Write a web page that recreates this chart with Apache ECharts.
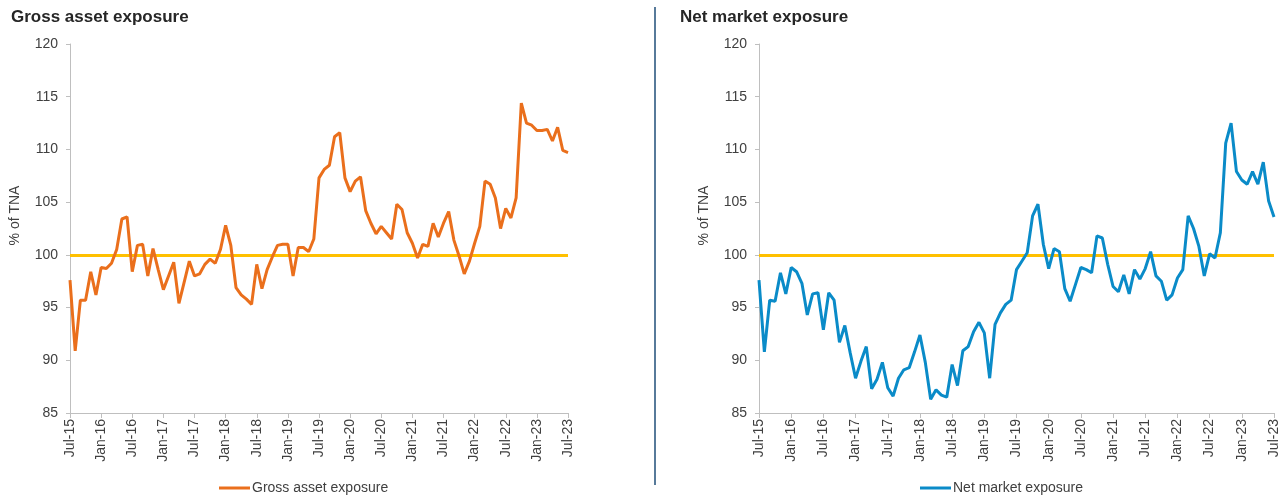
<!DOCTYPE html>
<html>
<head>
<meta charset="utf-8">
<script src="https://cdn.jsdelivr.net/npm/echarts@6/dist/echarts.min.js"></script>
<style>
  html, body { margin: 0; padding: 0; background: #fff; }
  #chart { width: 1287px; height: 497px; }
</style>
</head>
<body>
<div id="chart"></div>
<script>
// monthly, Jul-15 .. Jul-23
var monthNames = ['Jan', 'Feb', 'Mar', 'Apr', 'May', 'Jun', 'Jul', 'Aug', 'Sep', 'Oct', 'Nov', 'Dec'];
var categories = [];
for (var m = 6; m <= 6 + 96; m++) {
  var yr = 15 + Math.floor(m / 12);
  categories.push(monthNames[m % 12] + '-' + yr);
}

var grossExposure = [
  97.6, 90.9, 95.7, 95.7, 98.4, 96.2, 98.8, 98.7, 99.2, 100.5, 103.4, 103.6,
  98.4, 100.9, 101.0, 98.0, 100.6, 98.6, 96.7, 98.0, 99.3, 95.4, 97.4, 99.4,
  98.0, 98.2, 99.1, 99.6, 99.2, 100.5, 102.8, 100.9, 96.9, 96.2, 95.8, 95.3,
  99.1, 96.8, 98.6, 99.8, 100.9, 101.0, 101.0, 98.0, 100.7, 100.7, 100.3, 101.5,
  107.3, 108.1, 108.5, 111.2, 111.6, 107.3, 106.0, 107.0, 107.4, 104.2, 103.0, 102.0,
  102.7, 102.1, 101.5, 104.8, 104.3, 102.1, 101.1, 99.7, 101.0, 100.8, 103.0, 101.7,
  103.0, 104.1, 101.4, 99.9, 98.2, 99.4, 101.1, 102.7, 107.0, 106.7, 105.4, 102.5,
  104.4, 103.5, 105.4, 114.4, 112.5, 112.3, 111.8, 111.8, 111.9, 110.8, 112.1, 109.9,
  109.7
];

var netExposure = [
  97.6, 90.8, 95.7, 95.6, 98.3, 96.3, 98.8, 98.4, 97.3, 94.3, 96.3, 96.4,
  92.9, 96.4, 95.7, 91.7, 93.3, 90.7, 88.3, 89.9, 91.3, 87.3, 88.2, 89.8,
  87.4, 86.6, 88.3, 89.1, 89.3, 90.8, 92.4, 89.8, 86.3, 87.2, 86.7, 86.5,
  89.6, 87.6, 90.9, 91.3, 92.7, 93.6, 92.6, 88.3, 93.4, 94.5, 95.3, 95.7,
  98.6, 99.4, 100.2, 103.7, 104.8, 101.0, 98.7, 100.6, 100.3, 96.8, 95.6, 97.2,
  98.8, 98.6, 98.3, 101.8, 101.6, 99.1, 97.0, 96.5, 98.1, 96.3, 98.6, 97.7,
  98.7, 100.3, 98.0, 97.5, 95.7, 96.2, 97.8, 98.6, 103.7, 102.5, 100.8, 98.0,
  100.1, 99.7, 102.1, 110.6, 112.5, 107.9, 107.1, 106.7, 107.9, 106.7, 108.8, 105.1,
  103.6
];

var referenceLevel = 100;
var yMin = 85, yMax = 120, yStep = 5;

var font = 'Liberation Sans, Arial, sans-serif';
var ink = '#262626';
var labelInk = '#404040';
var axisGrey = '#bfbfbf';
var orange = '#ea6f1c';
var blue = '#0a8bc8';
var yellow = '#ffc000';

function makeX(gridIndex) {
  return {
    type: 'category',
    gridIndex: gridIndex,
    data: categories,
    boundaryGap: false,
    axisLine: { lineStyle: { color: axisGrey, width: 1 } },
    axisTick: { show: true, interval: 5, length: 5, lineStyle: { color: axisGrey } },
    axisLabel: { interval: 5, rotate: 90, margin: 6, color: labelInk, fontSize: 14, fontFamily: font },
    splitLine: { show: false }
  };
}

function makeY(gridIndex) {
  return {
    type: 'value',
    gridIndex: gridIndex,
    min: yMin, max: yMax, interval: yStep,
    name: '% of TNA',
    nameLocation: 'middle',
    nameRotate: 90,
    nameGap: 48,
    nameTextStyle: { color: labelInk, fontSize: 14, fontFamily: font, padding: [0, 0, 0, 26] },
    axisLine: { show: true, lineStyle: { color: axisGrey, width: 1 } },
    axisTick: { show: true, length: 4, lineStyle: { color: axisGrey } },
    axisLabel: { color: labelInk, fontSize: 14, fontFamily: font, margin: 12 },
    splitLine: { show: false }
  };
}

function makeSeries(name, data, color, idx) {
  return {
    name: name,
    type: 'line',
    xAxisIndex: idx,
    yAxisIndex: idx,
    data: data,
    showSymbol: false,
    symbol: 'none',
    lineStyle: { color: color, width: 3 },
    itemStyle: { color: color },
    z: 3,
    markLine: {
      silent: true,
      symbol: 'none',
      label: { show: false },
      lineStyle: { color: yellow, width: 3, type: 'solid' },
      data: [{ yAxis: referenceLevel }],
      z: 2
    }
  };
}

var chart = echarts.init(document.getElementById('chart'), null, { renderer: 'canvas' });
chart.setOption({
  animation: false,
  textStyle: { fontFamily: font },
  title: [
    { text: 'Gross asset exposure', left: 6, top: 4,
      textStyle: { color: ink, fontSize: 17, fontWeight: 'bold', fontFamily: font } },
    { text: 'Net market exposure', left: 675, top: 4,
      textStyle: { color: ink, fontSize: 17, fontWeight: 'bold', fontFamily: font } }
  ],
  legend: [
    { data: ['Gross asset exposure'], left: 214, top: 476, icon: 'rect', itemWidth: 31, itemHeight: 3,
      textStyle: { color: labelInk, fontSize: 14, fontFamily: font, padding: [0, 0, 0, -3] } },
    { data: ['Net market exposure'], left: 915, top: 476, icon: 'rect', itemWidth: 31, itemHeight: 3,
      textStyle: { color: labelInk, fontSize: 14, fontFamily: font, padding: [0, 0, 0, -3] } }
  ],
  grid: [
    { left: 70, top: 44, width: 498, height: 369, outerBoundsMode: 'none' },
    { left: 759, top: 44, width: 515, height: 369, outerBoundsMode: 'none' }
  ],
  xAxis: [makeX(0), makeX(1)],
  yAxis: [makeY(0), makeY(1)],
  series: [
    makeSeries('Gross asset exposure', grossExposure, orange, 0),
    makeSeries('Net market exposure', netExposure, blue, 1)
  ],
  graphic: [
    { type: 'line', shape: { x1: 655, y1: 7, x2: 655, y2: 485 },
      style: { stroke: '#1f4e79', lineWidth: 1.5 } }
  ]
});
window.addEventListener('resize', function() { chart.resize(); });
</script>
</body>
</html>
